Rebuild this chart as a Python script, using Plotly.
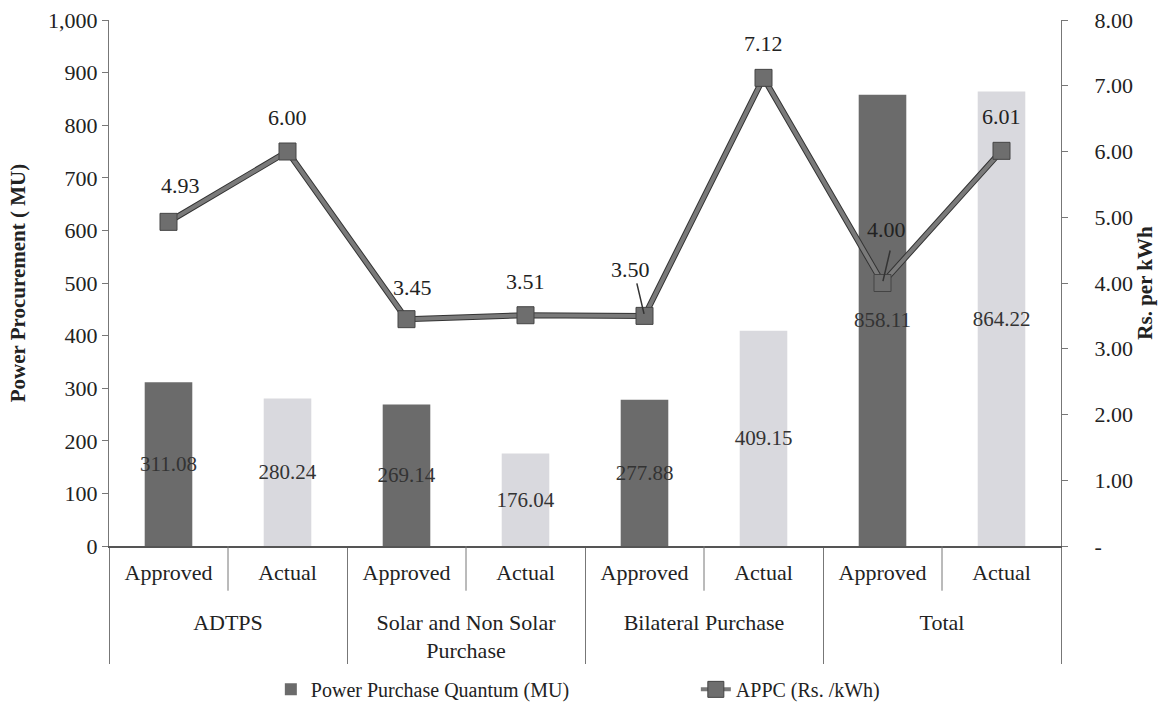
import plotly.graph_objects as go

groups = ["ADTPS", "ADTPS", "Solar and Non Solar<br>Purchase", "Solar and Non Solar<br>Purchase",
          "Bilateral Purchase", "Bilateral Purchase", "Total", "Total"]
subs = ["Approved", "Actual"] * 4
quantum = [311.08, 280.24, 269.14, 176.04, 277.88, 409.15, 858.11, 864.22]
appc = [4.93, 6.00, 3.45, 3.51, 3.50, 7.12, 4.00, 6.01]
appc_labels = ["4.93", "6.00", "3.45", "3.51", "3.50", "7.12", "4.00", "6.01"]
left_ticks = [0, 100, 200, 300, 400, 500, 600, 700, 800, 900, 1000]
right_ticks = [0, 1, 2, 3, 4, 5, 6, 7, 8]
right_ticktext = ["-", "1.00", "2.00", "3.00", "4.00", "5.00", "6.00", "7.00", "8.00"]

DARK = "#6b6b6b"
LIGHT = "#d9d9de"
FONT = "Liberation Serif"
TXT = "#222222"
FS = 22

bar_colors = [DARK if s == "Approved" else LIGHT for s in subs]
# leading break drops the group row a little lower, as in the original
group_text = ["<br>" + g for g in groups]

fig = go.Figure()
fig.add_trace(go.Bar(
    x=[group_text, subs], y=quantum, name="Power Purchase Quantum (MU)",
    marker=dict(color=bar_colors, line=dict(width=0)),
    text=[f"{v:.2f}" for v in quantum], textposition="inside",
    insidetextanchor="middle", constraintext="none", textangle=0,
    textfont=dict(family=FONT, size=21, color="#333333"),
    yaxis="y",
))
# dark underlay to give the line an edge
fig.add_trace(go.Scatter(
    x=[group_text, subs], y=appc, mode="lines", yaxis="y2",
    line=dict(color="#333333", width=6), showlegend=False, hoverinfo="skip",
))
fig.add_trace(go.Scatter(
    x=[group_text, subs], y=appc, mode="lines+markers", yaxis="y2",
    name="APPC (Rs. /kWh)",
    line=dict(color="#7a7a7a", width=4),
    marker=dict(symbol="square", size=17, color="#6e6e6e", line=dict(color="#444444", width=1)),
))

shift = {0: (12, 36), 2: (6, 32), 4: (-14, 46), 6: (4, 54)}
for i, (v, lab) in enumerate(zip(appc, appc_labels)):
    dx, dy = shift.get(i, (0, 34))
    fig.add_annotation(x=i, y=v, xref="x", yref="y2", text=lab, showarrow=False,
                       xshift=dx, yshift=dy,
                       font=dict(family=FONT, size=FS, color=TXT))
# leader lines for crowded labels
for i in (4, 6):
    fig.add_annotation(x=i, y=appc[i], xref="x", yref="y2", text="", showarrow=True,
                       arrowhead=0, arrowwidth=1.5, arrowcolor="#333333",
                       ax=-8 if i == 4 else 8, ay=-34, axref="pixel", ayref="pixel",
                       standoff=2)

# inner dividers between Approved / Actual
for i in range(0, len(subs), 2):
    fig.add_shape(type="line", xref="x", yref="paper", x0=i + 0.5, x1=i + 0.5,
                  y0=0, y1=-0.085, line=dict(color="#777777", width=1))

fig.update_layout(
    width=1172, height=702,
    margin=dict(l=109, r=111, t=20, b=156),
    paper_bgcolor="white", plot_bgcolor="white",
    font=dict(family=FONT, size=FS, color=TXT),
    bargap=0.6,
    xaxis=dict(type="multicategory", showline=True, linecolor="#555555", linewidth=1.5,
               showdividers=True, dividercolor="#777777", dividerwidth=1,
               ticks="", ticklabelstandoff=6, automargin=False,
               tickfont=dict(family=FONT, size=FS, color=TXT)),
    yaxis=dict(range=[0, 1000], tickvals=left_ticks, tickformat=",", showgrid=False,
               showline=True, linecolor="#777777", linewidth=1, ticks="outside", ticklen=6,
               tickcolor="#777777", zeroline=False, automargin=False,
               title=dict(text="<b>Power Procurement ( MU)</b>", font=dict(family=FONT, size=21),
                          standoff=16),
               tickfont=dict(family=FONT, size=FS, color=TXT)),
    yaxis2=dict(range=[0, 8], overlaying="y", side="right", tickvals=right_ticks,
                ticktext=right_ticktext, showgrid=False, showline=True, linecolor="#777777",
                linewidth=1, ticks="outside", ticklen=6, tickcolor="#777777", zeroline=False,
                ticklabelstandoff=22, automargin=False,
                title=dict(text="<b>Rs. per kWh</b>", font=dict(family=FONT, size=21), standoff=4),
                tickfont=dict(family=FONT, size=FS, color=TXT)),
    legend=dict(orientation="h", x=0.17, xanchor="left", y=0.018, yanchor="middle",
                yref="container", bgcolor="rgba(0,0,0,0)",
                entrywidth=380, entrywidthmode="pixels",
                font=dict(family=FONT, size=20, color=TXT), traceorder="normal"),
    showlegend=True,
)

fig.write_html("out.html")
